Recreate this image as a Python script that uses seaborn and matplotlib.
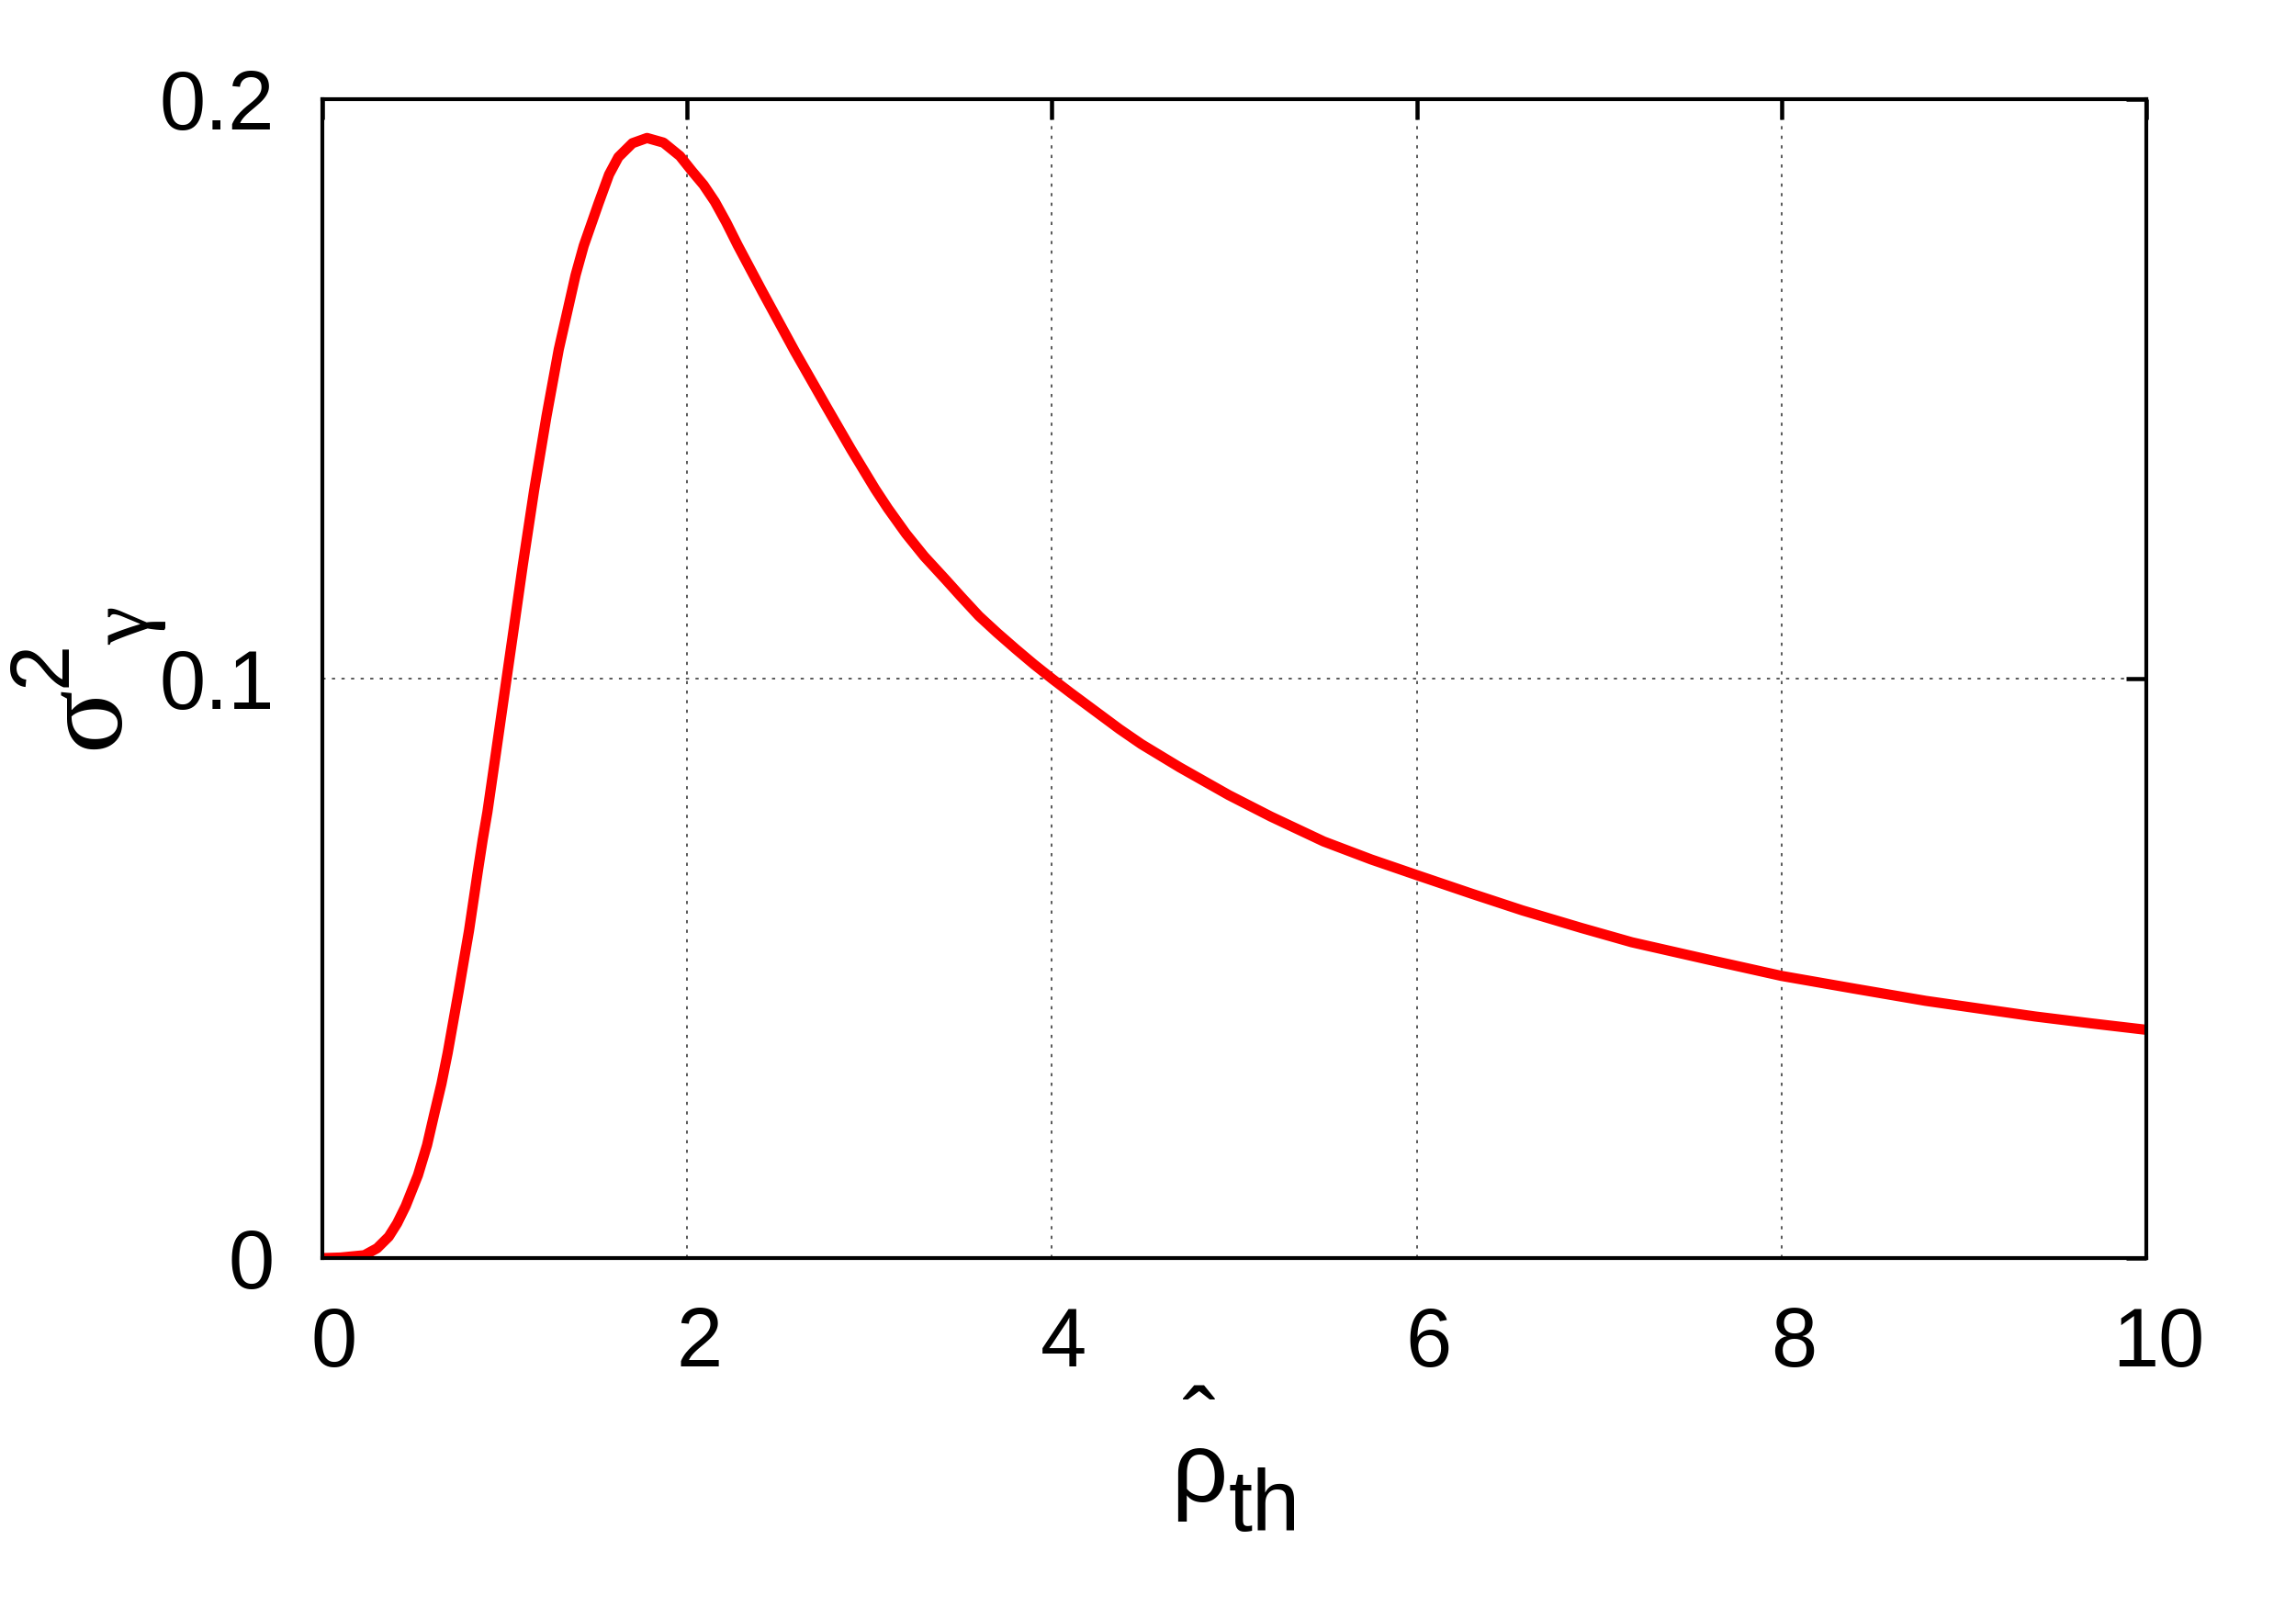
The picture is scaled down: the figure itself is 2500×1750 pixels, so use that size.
import pandas as pd
import matplotlib
matplotlib.use('Agg')
import matplotlib.pyplot as plt
import matplotlib.transforms as mtransforms
import seaborn as sns

# values
rho_th = [0.0, 0.1, 0.23, 0.30, 0.364, 0.41, 0.457, 0.524, 0.574, 0.613,
          0.653, 0.687, 0.717, 0.747, 0.775, 0.804, 0.829, 0.854, 0.879, 0.905,
          0.95, 1.01, 1.052, 1.099, 1.161, 1.229, 1.296, 1.388, 1.433, 1.514,
          1.572, 1.623, 1.70, 1.78, 1.87, 1.96, 2.026, 2.09, 2.152, 2.215,
          2.277, 2.412, 2.59, 2.764, 2.9, 3.031, 3.1, 3.2, 3.3, 3.417,
          3.5, 3.6, 3.7, 3.802, 3.9, 4.0, 4.1, 4.25, 4.37, 4.49,
          4.7, 4.97, 5.2, 5.49, 5.75, 6.0, 6.3, 6.58, 6.9, 7.18,
          7.6, 8.0, 8.4, 8.79, 9.1, 9.39, 9.7, 10.0]
sigma2 = [0.0, 0.0001, 0.0005, 0.0017, 0.0037, 0.0060, 0.0090, 0.0143, 0.0195, 0.0248,
          0.0301, 0.0354, 0.0407, 0.0460, 0.0512, 0.0565, 0.0618, 0.0671, 0.0722, 0.0770,
          0.0868, 0.1000, 0.1092, 0.1196, 0.1325, 0.1453, 0.1568, 0.1696, 0.1747, 0.1820,
          0.1870, 0.1900, 0.1924, 0.1933, 0.1925, 0.1902, 0.1876, 0.1852, 0.1823, 0.1787,
          0.1748, 0.1668, 0.1565, 0.1469, 0.1395, 0.1327, 0.1294, 0.1250, 0.1211, 0.1171,
          0.1142, 0.1108, 0.1079, 0.1051, 0.1025, 0.1000, 0.0976, 0.0941, 0.0913, 0.0887,
          0.0847, 0.0799, 0.0762, 0.0719, 0.0688, 0.0661, 0.0629, 0.0600, 0.0570, 0.0545,
          0.0515, 0.0487, 0.0465, 0.0444, 0.0430, 0.0417, 0.0405, 0.0394]

x_ticks = [0, 2, 4, 6, 8, 10]
x_tick_labels = ['0', '2', '4', '6', '8', '10']
y_ticks = [0, 0.1, 0.2]
y_tick_labels = ['0', '0.1', '0.2']

df = pd.DataFrame({'rho_th': rho_th, 'sigma2': sigma2})

sns.set_theme(style='white')
plt.rcParams['font.family'] = ['Liberation Sans', 'DejaVu Sans']
plt.rcParams['text.color'] = 'black'

fig = plt.figure(figsize=(10, 7), dpi=250)
ax = fig.add_axes([0.1404, 0.2171, 0.7944, 0.7212])

sns.lineplot(data=df, x='rho_th', y='sigma2', color='red', linewidth=3.2, ax=ax)

ax.set_xlim(0, 10)
ax.set_ylim(0, 0.2)
ax.set_xticks(x_ticks)
ax.set_xticklabels(x_tick_labels)
ax.set_yticks(y_ticks)
ax.set_yticklabels(y_tick_labels)
ax.set_xlabel('')
ax.set_ylabel('')

ax.grid(True, color='#444444', linestyle=(0, (2, 4)), linewidth=0.5)
ax.tick_params(direction='in', length=6.3, width=1.3, top=True, right=True,
               labelsize=26, color='black', labelcolor='black')
ax.tick_params(axis='x', pad=15)
ax.tick_params(axis='y', pad=15)
for s in ax.spines.values():
    s.set_linewidth(1.2)
    s.set_color('black')

# gnuplot puts the x tick numbers a little right of the tick
shift = mtransforms.ScaledTranslation(13 / 250, 0, fig.dpi_scale_trans)
for lab in ax.get_xticklabels():
    lab.set_transform(lab.get_transform() + shift)

# x label: rho with a hat well above it, then "th" as subscript
fig.text(0.5224, 0.0657, 'ˆ\nρ', fontsize=31, ha='center', ma='center',
         va='baseline', linespacing=0.33, color='black')
fig.text(0.5352, 0.0474, 'th', fontsize=27, ha='left', va='baseline', color='black')

# y label: sigma^2 sub gamma, rotated
fig.text(0.0512, 0.5337, 'σ', fontsize=37, family='Liberation Serif', color='black',
         rotation=90, rotation_mode='anchor', ha='left', va='baseline')
fig.text(0.0288, 0.5726, '2', fontsize=26, color='black',
         rotation=90, rotation_mode='anchor', ha='left', va='baseline')
fig.text(0.0644, 0.5989, 'γ', fontsize=27, family='Liberation Serif', color='black',
         rotation=90, rotation_mode='anchor', ha='left', va='baseline')

plt.savefig('out.png', dpi=250)
